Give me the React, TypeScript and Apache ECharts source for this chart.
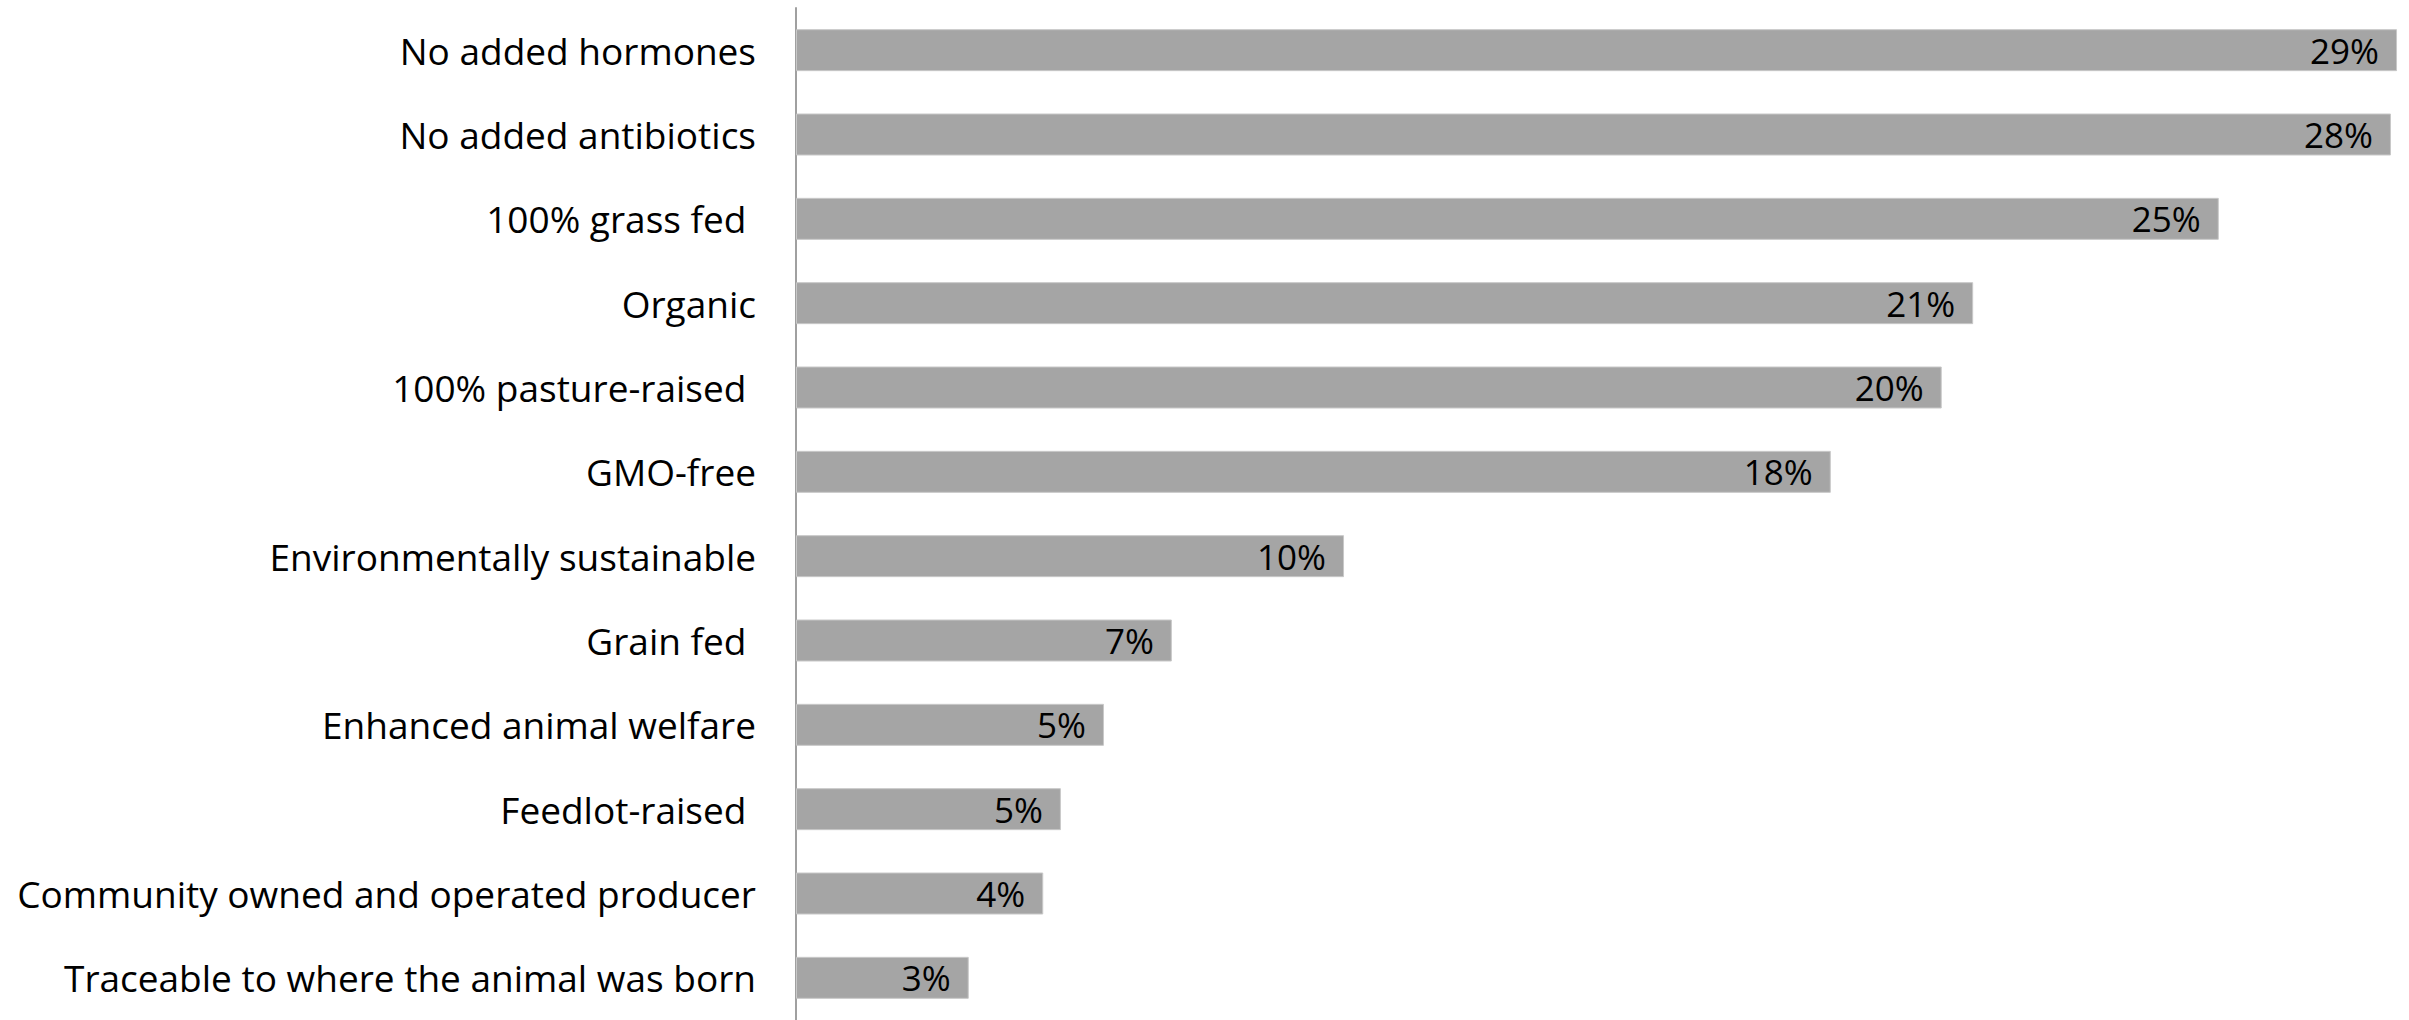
import React, { useEffect, useRef } from "react";
import * as echarts from "echarts";

const categories = [
  "No added hormones",
  "No added antibiotics",
  "100% grass fed ",
  "Organic",
  "100% pasture-raised ",
  "GMO-free",
  "Environmentally sustainable",
  "Grain fed ",
  "Enhanced animal welfare",
  "Feedlot-raised ",
  "Community owned and operated producer",
  "Traceable to where the animal was born",
];

const shares = [29.01, 28.9, 25.78, 21.33, 20.76, 18.75, 9.93, 6.81, 5.58, 4.8, 4.48, 3.13];

const shareLabels = ["29%", "28%", "25%", "21%", "20%", "18%", "10%", "7%", "5%", "5%", "4%", "3%"];

const FONT = "'Open Sans'";

export default function App() {
  const ref = useRef<HTMLDivElement>(null);
  useEffect(() => {
    if (!ref.current) return;
    const chart = echarts.init(ref.current, undefined, { renderer: "svg" });
    chart.setOption({
      animation: false,
      backgroundColor: "#ffffff",
      grid: { left: 796, top: 8, width: 1606, height: 1020, containLabel: false },
      xAxis: {
        type: "value",
        min: 0,
        max: 29.1,
        show: false,
      },
      yAxis: {
        type: "category",
        inverse: true,
        data: categories,
        axisLine: { show: true, lineStyle: { color: "#A0A0A0", width: 2 } },
        axisTick: { show: false },
        axisLabel: {
          color: "#000000",
          fontFamily: FONT,
          fontSize: 37,
          margin: 40,
        },
        splitLine: { show: false },
      },
      series: [
        {
          type: "bar",
          data: shares,
          barWidth: 42,
          itemStyle: { color: "#A5A5A5", borderColor: "#C8C8C8", borderWidth: 1 },
          label: {
            show: true,
            position: "insideRight",
            distance: 18,
            color: "#000000",
            fontFamily: FONT,
            fontSize: 35,
            formatter: (p: any) => shareLabels[p.dataIndex],
          },
        },
      ],
    });
    return () => chart.dispose();
  }, []);
  return (
    <div
      ref={ref}
      style={{ position: "fixed", left: 0, top: 0, width: 2409, height: 1020, background: "#fff" }}
    />
  );
}
